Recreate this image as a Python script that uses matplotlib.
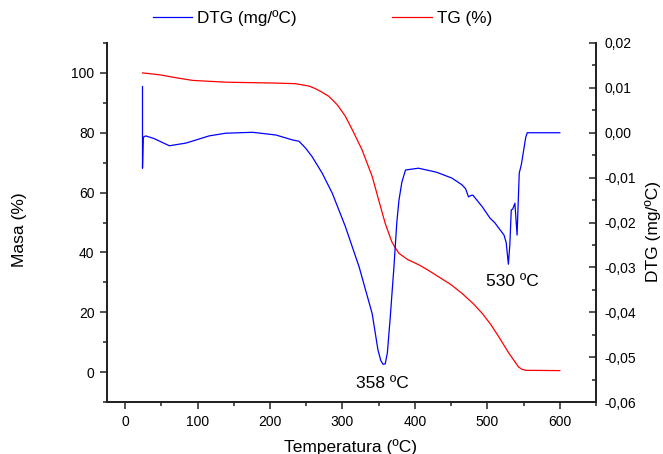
import numpy as np
import matplotlib.pyplot as plt
from matplotlib.ticker import MultipleLocator, FuncFormatter

plt.rcParams['font.family'] = ['Liberation Sans', 'DejaVu Sans']

# === TG curve (% mass) ===
tg_temp = [24, 47, 70, 93, 139, 208, 235, 254, 262, 270, 281, 293, 304, 315, 327,
           341, 350, 359, 368, 373, 378, 390, 406, 420, 433, 450, 465, 480, 493,
           505, 516, 530, 537, 543, 548, 553, 600]
tg_mass = [100, 99.4, 98.4, 97.5, 96.9, 96.6, 96.4, 95.6, 94.8, 93.8, 92.2, 89.3,
           85.5, 80.3, 74.3, 65.4, 57.5, 49.7, 43.6, 41.5, 39.7, 37.6, 35.8, 33.8,
           31.8, 29.2, 26.3, 23.0, 19.6, 15.8, 11.7, 6.2, 3.8, 1.7, 0.9, 0.6, 0.5]

# === DTG curve (mg/ºC) ===
dtg_temp = [24, 24, 25, 28.5, 40, 61, 84, 116, 139, 176, 208, 231, 240, 249, 258,
            272, 286, 304, 323, 341, 349, 353, 356, 359, 362, 366, 371, 375, 378,
            382, 387, 405, 430, 451, 465, 470, 474, 477, 480, 493, 504, 510, 516,
            523, 526, 529, 531, 533, 535, 538, 541, 544, 547, 550, 553, 555, 600]
dtg_val = [0.0103, -0.0079, -0.0010, -0.0007, -0.0013, -0.0029, -0.0023, -0.0007,
           -0.0001, 0.0001, -0.0005, -0.0016, -0.0019, -0.0034, -0.0053, -0.0090,
           -0.0135, -0.0209, -0.0299, -0.0403, -0.0484, -0.0508, -0.0516, -0.0515,
           -0.0490, -0.0410, -0.0300, -0.0200, -0.0150, -0.0110, -0.0083, -0.0079,
           -0.0088, -0.0101, -0.0116, -0.0125, -0.0143, -0.0140, -0.0139, -0.0165,
           -0.0191, -0.0200, -0.0213, -0.0228, -0.0245, -0.0293, -0.0250, -0.0172,
           -0.0170, -0.0157, -0.0228, -0.0090, -0.0070, -0.0040, -0.0010, 0.0, 0.0]

fig = plt.figure(figsize=(6.63, 4.54), dpi=100)
ax = fig.add_axes([0.1614, 0.1145, 0.7376, 0.7908])
ax2 = ax.twinx()

l2, = ax2.plot(dtg_temp, dtg_val, color="#0000ff", lw=0.9)
l1, = ax.plot(tg_temp, tg_mass, color="#ff0000", lw=0.9)

ax.set_xlim(-25, 650)
ax.set_ylim(-10, 110)
ax2.set_ylim(-0.06, 0.02)

ax.set_xticks(range(0, 601, 100))
ax.xaxis.set_minor_locator(MultipleLocator(50))
ax.set_yticks(range(0, 101, 20))
ax.yaxis.set_minor_locator(MultipleLocator(10))
ax2.yaxis.set_major_locator(MultipleLocator(0.01))
ax2.yaxis.set_minor_locator(MultipleLocator(0.005))
ax2.yaxis.set_major_formatter(FuncFormatter(lambda v, p: f"{v:.2f}".replace(".", ",").replace("-0,00", "0,00")))

for a in (ax, ax2):
    a.spines['top'].set_visible(False)
    for s in a.spines.values():
        s.set_linewidth(1.3)
        s.set_color('#222222')
ax.tick_params(which='major', length=5, width=1.1, labelsize=10, color='#222222', pad=4)
ax.tick_params(which='minor', length=3, width=1.1, color='#222222')
ax2.tick_params(which='major', direction='in', length=5, width=1.1, labelsize=10,
                color='#222222', pad=6)
ax2.tick_params(which='minor', direction='in', length=3, width=1.1, color='#222222')

ax.set_xlabel("Temperatura (ºC)", fontsize=12.5)
ax.xaxis.set_label_coords(0.497, -0.104)
ax.set_ylabel("Masa (%)", fontsize=12.5)
ax.yaxis.set_label_coords(-0.163, 0.48)
ax2.set_ylabel("DTG (mg/ºC)", fontsize=12.5)
ax2.yaxis.set_label_coords(1.1, 0.475)

ax.text(354.5, -3.8, "358 ºC", fontsize=12.5, ha='center', va='center')
ax.text(535, 30.2, "530 ºC", fontsize=12.5, ha='center', va='center')

fig.legend([l2, l1], ["DTG (mg/ºC)", "TG (%)"], loc='center', bbox_to_anchor=(0.486, 0.960),
           ncol=2, frameon=False, fontsize=12.3, columnspacing=5.6, handlelength=2.3,
           handletextpad=0.3)

fig.savefig("out.png", dpi=100)
